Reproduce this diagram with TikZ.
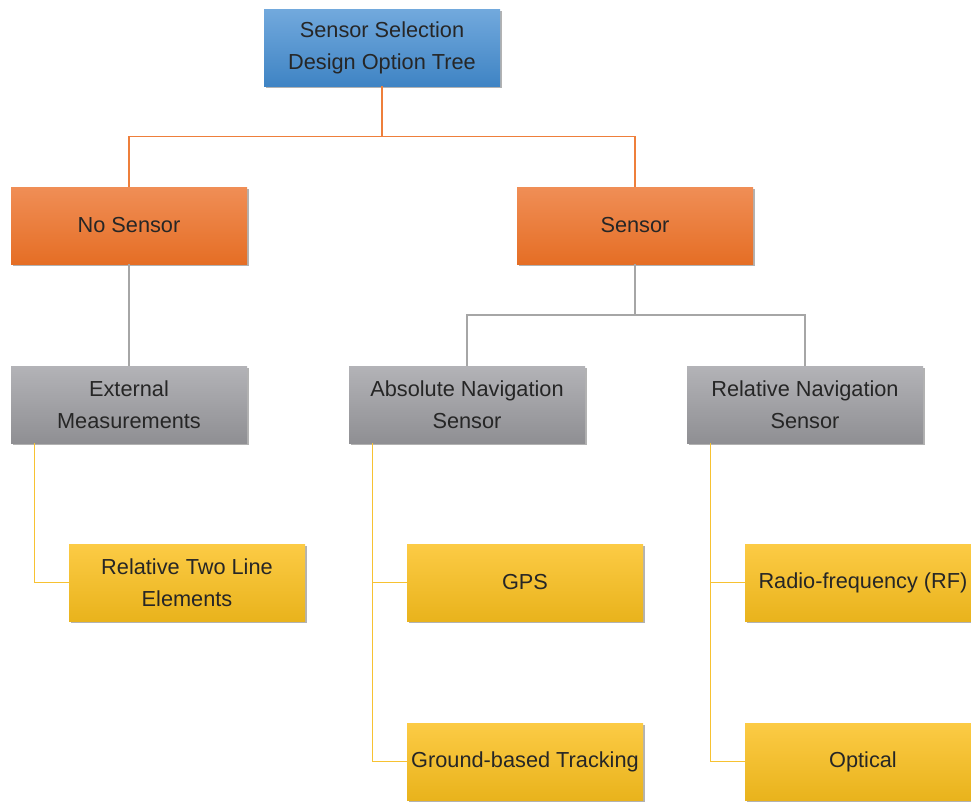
\documentclass[tikz,border=0pt]{standalone}
\usepackage{fontspec}
\setmainfont{Liberation Sans}
\usetikzlibrary{shadows,calc}

\definecolor{txt}{HTML}{262626}
\definecolor{blueT}{HTML}{72A9DD}
\definecolor{blueB}{HTML}{3F84C4}
\definecolor{orgT}{HTML}{F08E56}
\definecolor{orgM}{HTML}{F07A30}
\definecolor{orgB}{HTML}{E56E25}
\definecolor{grayT}{HTML}{B3B3B7}
\definecolor{grayM}{HTML}{A3A3A7}
\definecolor{grayB}{HTML}{8F8F93}
\definecolor{yelT}{HTML}{FCCB45}
\definecolor{yelM}{HTML}{FCC516}
\definecolor{yelB}{HTML}{E9B31C}
\definecolor{lineO}{HTML}{EE7F3B}
\definecolor{lineG}{HTML}{A6A6A6}
\definecolor{lineY}{HTML}{F7C232}

\tikzset{
  box/.style={rectangle, minimum width=177pt, minimum height=57.75pt,
    align=center, text=txt, inner sep=0pt,
    font=\fontsize{16.3}{24}\selectfont,
    drop shadow={shadow xshift=1.2pt, shadow yshift=-1.8pt, opacity=0.3, fill=black}},
  rootbox/.style={box, top color=blueT, bottom color=blueB},
  orangebox/.style={box, top color=orgT, middle color=orgM, bottom color=orgB},
  graybox/.style={box, top color=grayT, middle color=grayM, bottom color=grayB},
  yellowbox/.style={box, top color=yelT, middle color=yelM, bottom color=yelB},
  lorange/.style={draw=lineO, line width=1.1pt},
  lgray/.style={draw=lineG, line width=1.1pt},
  lyellow/.style={draw=lineY, line width=1.1pt},
}

\begin{document}
\begin{tikzpicture}[x=0.75pt,y=-0.75pt]
  \useasboundingbox (0,0) rectangle (971,801);
  \clip (0,0) rectangle (971,801);

  % tree nodes, positioned by their centres
  \node[rootbox]   (root)     at (382,47.5)  {Sensor Selection\\Design Option Tree};
  \node[orangebox] (nosensor) at (129,225.5) {No Sensor};
  \node[orangebox] (sensor)   at (635,225.5) {Sensor};
  \node[graybox]   (external) at (129,404.5) {External\\Measurements};
  \node[graybox]   (absnav)   at (467,404.5) {Absolute Navigation\\Sensor};
  \node[graybox]   (relnav)   at (805,404.5) {Relative Navigation\\Sensor};
  \node[yellowbox] (twoline)  at (187,582.5) {Relative Two Line\\Elements};
  \node[yellowbox] (gps)      at (525,582.5) {GPS};
  \node[yellowbox] (rf)       at (863,582.5) {Radio-frequency (RF)};
  \node[yellowbox] (ground)   at (525,761.5) {Ground-based Tracking};
  \node[yellowbox] (optical)  at (863,761.5) {Optical};

  % first level: elbow connectors from the root
  \coordinate (busA) at ($(root.south)!0.5!(root.south |- nosensor.north)$);
  \draw[lorange] (root.south) -- (busA) -| (nosensor.north);
  \draw[lorange] (busA) -| (sensor.north);

  % second level
  \draw[lgray] (nosensor.south) -- (external.north);
  \coordinate (busB) at ($(sensor.south)!0.5!(sensor.south |- absnav.north)$);
  \draw[lgray] (sensor.south) -- (busB) -| (absnav.north);
  \draw[lgray] (busB) -| (relnav.north);

  % third level: side-branch connectors
  \draw[lyellow] ([xshift=18pt]external.south west) |- (twoline.west);
  \draw[lyellow] ([xshift=18pt]absnav.south west) |- (gps.west);
  \draw[lyellow] ([xshift=18pt]absnav.south west) |- (ground.west);
  \draw[lyellow] ([xshift=18pt]relnav.south west) |- (rf.west);
  \draw[lyellow] ([xshift=18pt]relnav.south west) |- (optical.west);
\end{tikzpicture}
\end{document}
